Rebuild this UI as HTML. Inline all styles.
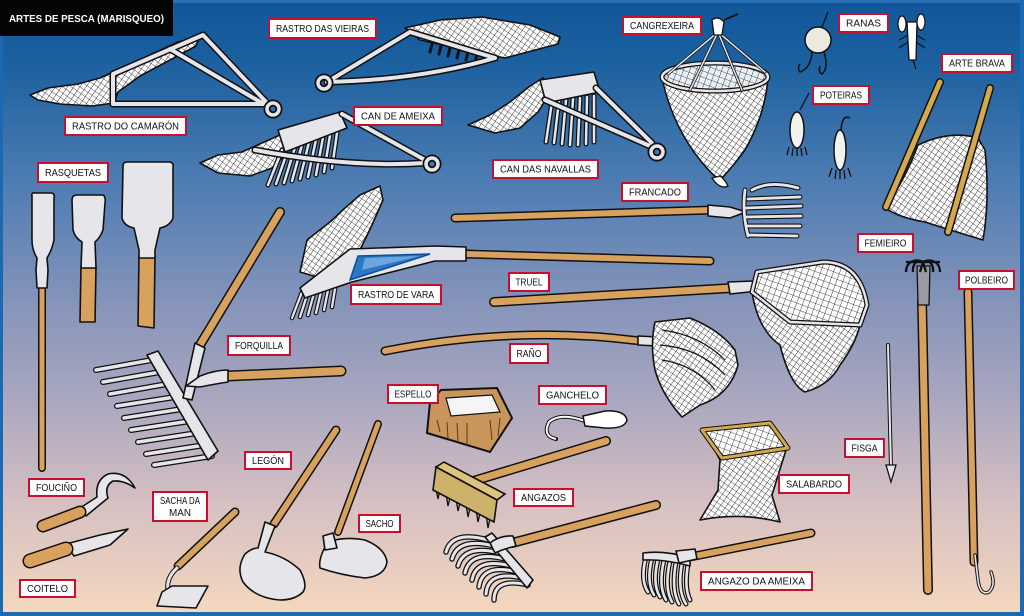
<!DOCTYPE html>
<html><head><meta charset="utf-8"><style>
html,body{margin:0;padding:0;background:#1b69b0}
svg{display:block}
.o{fill:none;stroke:#111;stroke-linecap:round;stroke-linejoin:round}
.w{fill:none;stroke:#d8a25e;stroke-linecap:round;stroke-linejoin:round}
.y{fill:none;stroke:#d3a84e;stroke-linecap:round;stroke-linejoin:round}
.m{fill:none;stroke:#e6e6ea;stroke-linecap:round;stroke-linejoin:round}
.mf{fill:#e6e6ea;stroke:#111;stroke-width:1.6;stroke-linejoin:round}
.nf{fill:url(#net);stroke:#111;stroke-width:1.6;stroke-linejoin:round}
.nf2{fill:url(#net2);stroke:#111;stroke-width:1.6;stroke-linejoin:round}
.wf{fill:#d8a25e;stroke:#111;stroke-width:1.6;stroke-linejoin:round}
.lb rect{fill:#fff;stroke:#c8102e;stroke-width:2}
.lb text{font-family:"Liberation Sans",sans-serif;font-size:10.5px;fill:#111;text-anchor:middle}
</style></head><body>
<svg width="1024" height="616" viewBox="0 0 1024 616" xmlns="http://www.w3.org/2000/svg">
<defs>
<linearGradient id="bg" x1="0" y1="0" x2="0" y2="1">
<stop offset="0" stop-color="#115699"/>
<stop offset="0.1" stop-color="#1b609f"/>
<stop offset="0.3" stop-color="#4f7db3"/>
<stop offset="0.5" stop-color="#8795ba"/>
<stop offset="0.65" stop-color="#aaa7bf"/>
<stop offset="0.82" stop-color="#d6c0c2"/>
<stop offset="1" stop-color="#f5d8be"/>
</linearGradient>
<pattern id="net" width="5" height="5" patternUnits="userSpaceOnUse" patternTransform="rotate(35)">
<rect width="5" height="5" fill="#fff"/>
<path d="M0,0 L5,0 M0,0 L0,5" stroke="#1a1a1a" stroke-width="0.85"/>
</pattern>
<pattern id="net2" width="6" height="6" patternUnits="userSpaceOnUse" patternTransform="rotate(20)">
<rect width="6" height="6" fill="#fff"/>
<path d="M0,0 L6,0 M0,0 L0,6" stroke="#1a1a1a" stroke-width="0.85"/>
</pattern>
</defs>

<rect x="0" y="0" width="1024" height="616" fill="url(#bg)"/>
<rect x="0" y="0" width="1024" height="3" fill="#2a70b5"/>
<rect x="0" y="0" width="3" height="616" fill="#1b69b0"/>
<rect x="1020" y="0" width="4" height="616" fill="#1b69b0"/>
<rect x="0" y="612" width="1024" height="4" fill="#1b69b0"/>

<!-- title -->
<rect x="0" y="0" width="173" height="36" fill="#050505"/>
<text x="9" y="22" font-family="Liberation Sans, sans-serif" font-weight="bold" font-size="10.5" fill="#fff" textLength="155" lengthAdjust="spacingAndGlyphs">ARTES DE PESCA (MARISQUEO)</text>

<!-- RASTRO DO CAMARON -->
<path class="nf" d="M30,95 L48,88 L78,84 L100,78 L118,70 L150,55 L178,42 L200,36 L196,46 L170,60 L140,76 L118,92 L114,103 L92,106 L60,104 L38,100 Z"/>
<path class="o" stroke-width="7" d="M113,104 L113,74 L203,35 L268,104 Z M170,49 L262,103"/>
<path class="m" stroke-width="4" d="M113,104 L113,74 L203,35 L268,104 Z M170,49 L262,103"/>
<circle cx="273" cy="109" r="6" class="o" stroke-width="7"/><circle cx="273" cy="109" r="6" class="m" stroke-width="3.5"/>

<!-- RASTRO DAS VIEIRAS -->
<path class="nf" d="M405,28 L440,20 L482,17 L530,25 L560,37 L558,44 L505,58 L465,50 L420,40 Z"/>
<path class="o" stroke-width="3" d="M432,44 l-2,8 M441,46 l-2,8 M450,48 l-2,8 M459,50 l-2,8 M468,52 l-2,8 M477,54 l-2,8 M486,55 l-2,8"/>
<path class="o" stroke-width="7" d="M327,82 L410,32 M327,82 Q420,80 495,58 M410,32 L495,58"/>
<path class="m" stroke-width="4" d="M327,82 L410,32 M327,82 Q420,80 495,58 M410,32 L495,58"/>
<circle cx="324" cy="83" r="6" class="o" stroke-width="7"/><circle cx="324" cy="83" r="6" class="m" stroke-width="3.5"/>

<!-- CAN DE AMEIXA -->
<path class="nf" d="M200,163 L218,155 L242,152 L262,143 L280,135 L296,128 L292,148 L272,168 L250,176 L218,173 Z"/>
<path class="o" stroke-width="5" d="M282,150 L268,185 M289,147 L276,184 M296,144 L284,183 M303,141 L292,181 M310,138 L300,179 M317,135 L308,177 M324,132 L316,175 M331,129 L324,172 M338,126 L332,168"/>
<path class="m" stroke-width="2.5" d="M282,150 L268,185 M289,147 L276,184 M296,144 L284,183 M303,141 L292,181 M310,138 L300,179 M317,135 L308,177 M324,132 L316,175 M331,129 L324,172 M338,126 L332,168"/>
<polygon class="mf" points="278,130 340,112 347,128 285,152"/>
<path class="o" stroke-width="7" d="M255,150 Q350,168 425,163 M342,114 L425,160"/>
<path class="m" stroke-width="4" d="M255,150 Q350,168 425,163 M342,114 L425,160"/>
<circle cx="432" cy="164" r="6" class="o" stroke-width="7"/><circle cx="432" cy="164" r="6" class="m" stroke-width="3.5"/>

<!-- CAN DAS NAVALLAS -->
<path class="nf" d="M468,125 L490,115 L510,102 L530,86 L543,78 L548,96 L538,112 L520,128 L495,133 Z"/>
<path class="o" stroke-width="5" d="M552,102 L546,142 M559,101 L554,143 M566,100 L562,144 M573,99 L570,145 M580,98 L578,145 M587,97 L586,144 M594,96 L594,142"/>
<path class="m" stroke-width="2.5" d="M552,102 L546,142 M559,101 L554,143 M566,100 L562,144 M573,99 L570,145 M580,98 L578,145 M587,97 L586,144 M594,96 L594,142"/>
<polygon class="mf" points="540,80 594,72 600,92 546,103"/>
<path class="o" stroke-width="7" d="M545,100 L650,146 M596,88 L652,143"/>
<path class="m" stroke-width="4" d="M545,100 L650,146 M596,88 L652,143"/>
<circle cx="657" cy="152" r="6" class="o" stroke-width="7"/><circle cx="657" cy="152" r="6" class="m" stroke-width="3.5"/>

<!-- CANGREXEIRA -->
<path class="nf" d="M662,78 Q672,125 700,160 Q712,175 720,180 Q730,170 745,150 Q765,115 768,78 Q715,95 662,78 Z"/>
<ellipse cx="715" cy="77" rx="53" ry="14" fill="url(#net2)" opacity="0.9"/>
<ellipse cx="715" cy="77" rx="53" ry="14" class="o" stroke-width="5"/>
<ellipse cx="715" cy="77" rx="53" ry="14" class="m" stroke-width="2.5"/>
<path class="o" stroke-width="3" d="M718,32 L668,74 M718,32 L690,90 M718,32 L742,90 M718,32 L765,72"/>
<path class="m" stroke-width="1.5" d="M718,32 L668,74 M718,32 L690,90 M718,32 L742,90 M718,32 L765,72"/>
<path d="M712,20 Q718,15 724,22 L722,35 L714,35 Z" fill="#fff" stroke="#111" stroke-width="1.3"/>
<path d="M724,20 L738,14" stroke="#111" stroke-width="2"/>
<path d="M712,178 Q720,190 728,186 Q724,178 720,176 Z" fill="#fff" stroke="#111" stroke-width="1.3"/>

<!-- RANAS -->
<path d="M822,27 L828,12" stroke="#111" stroke-width="1.3"/>
<circle cx="818" cy="40" r="13" fill="#ebe9e0" stroke="#111" stroke-width="1.5"/>
<path d="M812,52 Q811,68 800,72 Q797,68 800,64 M824,52 Q829,68 822,74 Q818,72 820,66" fill="none" stroke="#111" stroke-width="1.5"/>
<path d="M907,22 L917,22 L916,60 L909,60 Z" fill="#fff" stroke="#111" stroke-width="1.3"/>
<ellipse cx="902" cy="24" rx="4" ry="8" fill="#fff" stroke="#111" stroke-width="1.2"/>
<ellipse cx="921" cy="22" rx="4" ry="8" fill="#fff" stroke="#111" stroke-width="1.2"/>
<path d="M908,35 l-9,5 M908,42 l-9,6 M916,35 l9,5 M916,42 l9,6 M913,60 l3,9" stroke="#111" stroke-width="1.2" fill="none"/>

<!-- POTEIRAS -->
<path d="M800,110 L809,93" stroke="#111" stroke-width="1.3"/>
<ellipse cx="797" cy="130" rx="7" ry="18" fill="#f2f2ee" stroke="#111" stroke-width="1.5"/>
<path d="M789,147 l-2,8 M793,148 l-1,8 M797,148 l0,8 M801,148 l1,8 M805,147 l2,8" stroke="#111" stroke-width="1.3"/>
<path d="M841,130 Q842,114 850,118" fill="none" stroke="#111" stroke-width="1.5"/>
<ellipse cx="840" cy="150" rx="6" ry="20" fill="#f2f2ee" stroke="#111" stroke-width="1.5"/>
<path d="M832,168 l-3,9 M836,170 l-1,9 M840,170 l0,9 M844,170 l1,9 M848,168 l3,9" stroke="#111" stroke-width="1.3"/>

<!-- ARTE BRAVA -->
<path class="nf" d="M918,145 Q950,130 978,138 L985,150 Q990,200 983,240 Q950,230 925,222 Q900,218 885,208 Q905,180 918,145 Z"/>
<path class="o" stroke-width="8" d="M940,82 L886,207 M990,88 L948,232"/>
<path class="y" stroke-width="5" d="M940,82 L886,207 M990,88 L948,232"/>

<!-- RASQUETAS -->
<path class="o" stroke-width="8" d="M42,290 L42,468"/><path class="w" stroke-width="5" d="M42,290 L42,468"/>
<path class="mf" d="M32,196 Q31,192 36,193 L52,193 Q55,194 54,198 L54,240 Q52,250 47,258 L48,270 L47,288 L37,288 L36,270 L37,258 Q32,250 32,240 Z"/>
<polygon class="wf" points="81,266 96,266 95,322 80,322"/>
<path class="mf" d="M72,200 Q72,195 77,195 L103,195 Q106,197 105,203 L103,230 Q100,238 95,242 L96,268 L81,268 L82,242 Q75,238 73,230 Z"/>
<polygon class="wf" points="139,256 155,256 154,328 138,326"/>
<path class="mf" d="M123,166 Q123,162 127,162 L170,162 Q174,163 173,168 L173,218 Q170,226 160,228 L155,250 L155,258 L139,258 L139,250 L134,228 Q124,226 122,218 Z"/>

<!-- FORQUILLA -->
<path class="o" stroke-width="10" d="M200,345 L280,212"/><path class="w" stroke-width="7" d="M200,345 L280,212"/>
<path class="o" stroke-width="11" d="M228,376 L341,371"/><path class="w" stroke-width="8" d="M228,376 L341,371"/>
<path class="o" stroke-width="6" d="M152,360 L96,370 M160,372 L103,382 M167,384 L110,394 M175,397 L117,406 M182,409 L124,418 M190,421 L131,430 M197,433 L138,442 M205,445 L146,454 M212,456 L154,465"/>
<path class="m" stroke-width="3.5" d="M152,360 L96,370 M160,372 L103,382 M167,384 L110,394 M175,397 L117,406 M182,409 L124,418 M190,421 L131,430 M197,433 L138,442 M205,445 L146,454 M212,456 L154,465"/>
<polygon class="mf" points="147,355 158,351 218,451 208,460"/>
<polygon class="mf" points="195,343 205,348 192,400 183,398"/>
<path class="mf" d="M228,370 Q215,370 200,376 L186,386 L200,387 Q215,384 228,382 Z"/>

<!-- FRANCADO -->
<path class="o" stroke-width="9" d="M455,218 L712,210"/><path class="w" stroke-width="6" d="M455,218 L712,210"/>
<polygon class="mf" points="708,205 730,207 746,212 730,218 708,216"/>
<path class="o" stroke-width="5" d="M745,190 Q742,212 748,236 M752,190 Q770,180 798,188 M748,199 L800,197 M746,208 L801,206 M746,217 L801,216 M747,226 L800,226 M749,235 L797,236"/>
<path class="m" stroke-width="2.8" d="M745,190 Q742,212 748,236 M752,190 Q770,180 798,188 M748,199 L800,197 M746,208 L801,206 M746,217 L801,216 M747,226 L800,226 M749,235 L797,236"/>

<!-- RASTRO DE VARA -->
<path class="o" stroke-width="9" d="M466,254 L710,261"/><path class="w" stroke-width="6" d="M466,254 L710,261"/>
<path class="nf" d="M300,272 L307,240 L330,222 L345,208 L360,195 L380,186 L383,200 L372,225 L360,250 L320,278 Z"/>
<path class="o" stroke-width="4.5" d="M302,292 L292,318 M309,289 L300,317 M316,286 L308,315 M323,283 L316,313 M330,280 L324,310 M337,277 L332,307"/>
<path class="m" stroke-width="2.3" d="M302,292 L292,318 M309,289 L300,317 M316,286 L308,315 M323,283 L316,313 M330,280 L324,310 M337,277 L332,307"/>
<polygon class="mf" points="300,288 350,249 435,246 466,247 466,261 435,261 352,282 305,298"/>
<polygon points="358,256 430,254 350,280" fill="#2a78c8" stroke="#0e4f96" stroke-width="1.5"/>
<polygon points="365,258 420,256 362,270" fill="#9cc3ea" opacity="0.6"/>

<!-- TRUEL -->
<path class="o" stroke-width="10" d="M494,302 L732,288"/><path class="w" stroke-width="7" d="M494,302 L732,288"/>
<polygon class="mf" points="728,282 753,281 758,291 730,294"/>
<path class="nf" d="M752,292 Q758,330 780,345 Q790,385 805,392 Q830,385 840,365 Q855,345 860,325 L790,322 Z"/>
<path class="nf2" d="M757,272 L823,262 Q860,262 867,305 L860,325 L790,322 L752,292 Z"/>
<path class="o" stroke-width="5" d="M757,272 L823,262 Q860,262 867,305 L860,325 L790,322 L752,292 Z"/>
<path class="m" stroke-width="2.5" d="M757,272 L823,262 Q860,262 867,305 L860,325 L790,322 L752,292 Z"/>

<!-- RAÑO -->
<path class="o" stroke-width="9" d="M385,351 Q515,325 640,341"/><path class="w" stroke-width="6" d="M385,351 Q515,325 640,341"/>
<polygon class="mf" points="638,336 658,337 658,346 638,345"/>
<path class="nf" d="M655,322 L690,318 Q720,330 735,350 L738,365 Q730,395 700,405 L682,417 Q662,395 655,370 Q650,345 655,322 Z"/>
<path d="M662,330 Q700,335 725,360 M660,345 Q700,348 725,375 M662,360 Q695,365 715,390" fill="none" stroke="#111" stroke-width="1.2"/>

<!-- ESPELLO -->
<polygon points="430,402 441,390 497,388 512,418 490,452 427,433" fill="#c9955a" stroke="#111" stroke-width="2"/>
<polygon points="446,398 492,395 500,412 451,416" fill="#f5f5f5" stroke="#111" stroke-width="1.2"/>
<path d="M437,420 L440,432 M447,422 L448,438 M457,423 L458,442 M467,423 L467,445 M490,420 L492,440 M500,418 L498,436" stroke="#5a3a1a" stroke-width="1"/>

<!-- GANCHELO -->
<path class="o" stroke-width="4" d="M585,421 Q560,412 549,422 Q542,436 556,439"/>
<path d="M585,421 Q560,412 549,422 Q542,436 556,439" fill="none" stroke="#fff" stroke-width="2"/>
<path d="M583,416 L605,411 Q625,410 627,420 Q625,429 605,428 L585,426 Z" fill="#fff" stroke="#111" stroke-width="1.5"/>

<!-- FISGA -->
<path class="o" stroke-width="4" d="M888,345 L891,468"/><path class="m" stroke-width="2" d="M888,345 L891,468"/>
<polygon points="886,465 896,465 891,482" fill="#e6e6ea" stroke="#111" stroke-width="1.3"/>

<!-- FEMIEIRO -->
<path class="o" stroke-width="10" d="M922,300 L928,590"/><path class="w" stroke-width="7" d="M922,300 L928,590"/>
<polygon points="917,266 930,266 929,305 918,305" fill="#9a9aa2" stroke="#111" stroke-width="1.3"/>
<path d="M906,262 L940,262 M923,262 C915,258 906,262 906,272 M923,262 C918,258 912,264 913,272 M923,262 L920,272 M923,262 L926,272 M923,262 C928,258 934,264 933,272 M923,262 C931,258 940,262 940,272" fill="none" stroke="#111" stroke-width="2.3"/>

<!-- POLBEIRO -->
<path class="o" stroke-width="9" d="M968,292 L974,562"/><path class="w" stroke-width="6" d="M968,292 L974,562"/>
<path class="o" stroke-width="3.5" d="M975,555 L978,580 Q980,596 989,592 Q996,585 991,572"/>
<path class="m" stroke-width="1.6" d="M975,555 L978,580 Q980,596 989,592 Q996,585 991,572"/>

<!-- SALABARDO -->
<path class="nf" d="M705,432 L720,460 L718,490 L700,520 Q740,512 780,522 L772,495 L786,450 L770,424 Z"/>
<path class="nf2" d="M702,430 L770,423 L788,448 L722,458 Z"/>
<path class="o" stroke-width="5" d="M702,430 L770,423 L788,448 L722,458 Z"/>
<path class="y" stroke-width="3" d="M702,430 L770,423 L788,448 L722,458 Z"/>

<!-- ANGAZOS -->
<path class="o" stroke-width="10" d="M470,482 L606,441"/><path class="w" stroke-width="7" d="M470,482 L606,441"/>
<path d="M436,489 l4,0 l-2,10 Z M446,494 l5,0 l-3,12 Z M456,499 l5,0 l-3,12 Z M466,504 l5,0 l-3,13 Z M476,509 l5,0 l-3,13 Z M486,514 l5,0 l-3,14 Z" fill="#cfb46c" stroke="#111" stroke-width="1.3"/>
<polygon points="436,467 444,462 505,494 497,500" fill="#dcc47e" stroke="#111" stroke-width="1.6"/>
<polygon points="436,467 497,500 494,522 433,490" fill="#cdb26a" stroke="#111" stroke-width="1.6"/>

<!-- ANGAZO -->
<path class="o" stroke-width="10" d="M512,543 L656,505"/><path class="w" stroke-width="7" d="M512,543 L656,505"/>
<path class="o" stroke-width="5.5" d="M488,540 Q452,530 446,552 M494,546 Q458,537 452,559 M500,553 Q464,544 458,566 M505,559 Q470,550 465,573 M511,566 Q476,557 472,580 M517,572 Q482,563 479,587 M522,578 Q488,570 486,594 M528,585 Q494,577 494,600"/>
<path class="m" stroke-width="3" d="M488,540 Q452,530 446,552 M494,546 Q458,537 452,559 M500,553 Q464,544 458,566 M505,559 Q470,550 465,573 M511,566 Q476,557 472,580 M517,572 Q482,563 479,587 M522,578 Q488,570 486,594 M528,585 Q494,577 494,600"/>
<polygon class="mf" points="485,537 492,533 533,580 527,588"/>
<path class="mf" d="M490,543 Q500,535 513,536 L516,546 Q503,549 495,553 Z"/>

<!-- ANGAZO DA AMEIXA -->
<path class="o" stroke-width="9" d="M690,557 L811,533"/><path class="w" stroke-width="6" d="M690,557 L811,533"/>
<path class="o" stroke-width="5" d="M646,557 Q640,580 648,592 M652,558 Q646,582 654,595 M658,559 Q652,584 660,597 M664,560 Q658,586 666,600 M670,561 Q664,588 672,602 M676,562 Q671,590 679,604 M682,563 Q677,590 686,604 M688,564 Q684,588 690,600"/>
<path class="m" stroke-width="2.6" d="M646,557 Q640,580 648,592 M652,558 Q646,582 654,595 M658,559 Q652,584 660,597 M664,560 Q658,586 666,600 M670,561 Q664,588 672,602 M676,562 Q671,590 679,604 M682,563 Q677,590 686,604 M688,564 Q684,588 690,600"/>
<path class="mf" d="M643,553 Q665,550 690,558 L690,566 Q665,559 643,560 Z"/>
<polygon class="mf" points="676,551 695,549 697,559 679,563"/>

<!-- FOUCINO -->
<path class="mf" d="M80,508 L97,497 Q95,480 108,474 Q125,470 135,488 Q124,480 113,481 Q104,486 108,498 L86,516 Z"/>
<path class="o" stroke-width="13" d="M43,526 L80,512"/><path class="w" stroke-width="10" d="M43,526 L80,512"/>

<!-- COITELO -->
<path class="mf" d="M66,544 L100,535 L128,529 L110,545 L74,556 Z"/>
<path class="o" stroke-width="15" d="M30,561 L66,549"/><path class="w" stroke-width="12" d="M30,561 L66,549"/>

<!-- SACHA DA MAN -->
<path class="o" stroke-width="9" d="M178,566 L235,512"/><path class="w" stroke-width="6" d="M178,566 L235,512"/>
<path class="o" stroke-width="5" d="M177,568 Q166,578 168,590"/><path class="m" stroke-width="3" d="M177,568 Q166,578 168,590"/>
<polygon class="mf" points="162,592 172,586 208,586 196,608 157,606"/>

<!-- LEGON -->
<path class="o" stroke-width="9" d="M274,524 L336,430"/><path class="w" stroke-width="6" d="M274,524 L336,430"/>
<path class="mf" d="M265,522 L275,526 L265,552 Q285,556 300,570 Q308,585 303,592 Q295,600 280,600 Q255,598 243,582 Q236,568 245,554 Q252,548 258,548 Z"/>

<!-- SACHO -->
<path class="o" stroke-width="8" d="M338,532 L378,424"/><path class="w" stroke-width="5" d="M338,532 L378,424"/>
<path class="mf" d="M328,542 Q345,536 365,540 Q385,548 387,562 Q385,576 365,578 Q340,575 320,568 Q318,558 328,542 Z"/>
<polygon class="mf" points="323,536 333,533 337,548 325,550"/>

<!-- LABELS -->
<g class="lb">
<rect x="269" y="19" width="107" height="19"/><text x="322.5" y="32.1" textLength="93" lengthAdjust="spacingAndGlyphs">RASTRO DAS VIEIRAS</text>
<rect x="65" y="117" width="121" height="18"/><text x="125.5" y="129.6" textLength="107" lengthAdjust="spacingAndGlyphs">RASTRO DO CAMARÓN</text>
<rect x="354" y="107" width="88" height="18"/><text x="398" y="119.6" textLength="74" lengthAdjust="spacingAndGlyphs">CAN DE AMEIXA</text>
<rect x="493" y="160" width="105" height="18"/><text x="545.5" y="172.6" textLength="91" lengthAdjust="spacingAndGlyphs">CAN DAS NAVALLAS</text>
<rect x="623" y="17" width="78" height="17"/><text x="662" y="29.1" textLength="64" lengthAdjust="spacingAndGlyphs">CANGREXEIRA</text>
<rect x="839" y="14" width="49" height="18"/><text x="863.5" y="26.6" textLength="35" lengthAdjust="spacingAndGlyphs">RANAS</text>
<rect x="813" y="86" width="56" height="18"/><text x="841" y="98.6" textLength="42" lengthAdjust="spacingAndGlyphs">POTEIRAS</text>
<rect x="942" y="54" width="70" height="18"/><text x="977" y="66.6" textLength="56" lengthAdjust="spacingAndGlyphs">ARTE BRAVA</text>
<rect x="38" y="163" width="70" height="19"/><text x="73" y="176.1" textLength="56" lengthAdjust="spacingAndGlyphs">RASQUETAS</text>
<rect x="622" y="183" width="66" height="18"/><text x="655" y="195.6" textLength="52" lengthAdjust="spacingAndGlyphs">FRANCADO</text>
<rect x="858" y="234" width="55" height="18"/><text x="885.5" y="246.6" textLength="42" lengthAdjust="spacingAndGlyphs">FEMIEIRO</text>
<rect x="959" y="271" width="55" height="18"/><text x="986.5" y="283.6" textLength="43" lengthAdjust="spacingAndGlyphs">POLBEIRO</text>
<rect x="351" y="285" width="90" height="19"/><text x="396" y="298.1" textLength="76" lengthAdjust="spacingAndGlyphs">RASTRO DE VARA</text>
<rect x="509" y="273" width="40" height="18"/><text x="529" y="285.6" textLength="27" lengthAdjust="spacingAndGlyphs">TRUEL</text>
<rect x="228" y="336" width="62" height="19"/><text x="259" y="349.1" textLength="48" lengthAdjust="spacingAndGlyphs">FORQUILLA</text>
<rect x="510" y="344" width="38" height="19"/><text x="529" y="357.1" textLength="25" lengthAdjust="spacingAndGlyphs">RAÑO</text>
<rect x="388" y="385" width="50" height="18"/><text x="413" y="397.6" textLength="37" lengthAdjust="spacingAndGlyphs">ESPELLO</text>
<rect x="539" y="386" width="67" height="18"/><text x="572.5" y="398.6" textLength="53" lengthAdjust="spacingAndGlyphs">GANCHELO</text>
<rect x="845" y="439" width="39" height="18"/><text x="864.5" y="451.6" textLength="26" lengthAdjust="spacingAndGlyphs">FISGA</text>
<rect x="779" y="475" width="70" height="18"/><text x="814" y="487.6" textLength="56" lengthAdjust="spacingAndGlyphs">SALABARDO</text>
<rect x="29" y="479" width="55" height="17"/><text x="56.5" y="491.1" textLength="41" lengthAdjust="spacingAndGlyphs">FOUCIÑO</text>
<rect x="245" y="452" width="46" height="17"/><text x="268" y="464.1" textLength="32" lengthAdjust="spacingAndGlyphs">LEGÓN</text>
<rect x="153" y="492" width="54" height="29"/><text x="180" y="504" textLength="40" lengthAdjust="spacingAndGlyphs">SACHA DA</text><text x="180" y="516" textLength="22" lengthAdjust="spacingAndGlyphs">MAN</text>
<rect x="359" y="515" width="41" height="17"/><text x="379.5" y="527.1" textLength="28" lengthAdjust="spacingAndGlyphs">SACHO</text>
<rect x="514" y="489" width="59" height="17"/><text x="543.5" y="501.1" textLength="45" lengthAdjust="spacingAndGlyphs">ANGAZOS</text>
<rect x="20" y="580" width="55" height="17"/><text x="47.5" y="592.1" textLength="41" lengthAdjust="spacingAndGlyphs">COITELO</text>
<rect x="701" y="572" width="111" height="18"/><text x="756.5" y="584.6" textLength="97" lengthAdjust="spacingAndGlyphs">ANGAZO DA AMEIXA</text>
</g>
</svg>
</body></html>
